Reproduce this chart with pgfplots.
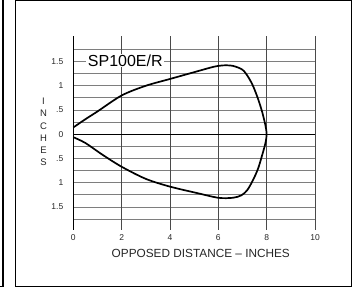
\documentclass[border=0pt]{standalone}
\usepackage{fontspec}
\setmainfont{Liberation Sans}
\usepackage{pgfplots}
\pgfplotsset{compat=1.18}
\definecolor{gridgray}{HTML}{7E7E7E}
\definecolor{vgray}{HTML}{4A4A4A}
\definecolor{labgray}{HTML}{262626}
\begin{document}
\begin{tikzpicture}[x=1pt,y=1pt]
\useasboundingbox (0,0) rectangle (353,288);
\draw[line width=1.1pt] (15.5,1.5) rectangle (351.5,287.6);
\draw[line width=1.1pt] (0,1.5) -- (3,1.5) -- (3,288);
\begin{axis}[
  at={(73.3pt,58.2pt)}, anchor=south west, scale only axis,
  width=241.7pt, height=193.5pt,
  xmin=0, xmax=10, ymin=-1.97, ymax=2.02,
  axis line style={draw=none},
  tick style={draw=none},
  major tick length=0pt, minor tick length=0pt,
  xtick={0,2,4,6,8,10},
  ytick={-1.5,-1,-0.5,0,0.5,1,1.5},
  yticklabels={1.5,1,.5,0,.5,1,1.5},
  minor ytick={-1.75,-1.25,-0.75,-0.25,0.25,0.75,1.25,1.75},
  ymajorgrids, yminorgrids,
  major grid style={gridgray, line width=0.85pt},
  minor grid style={gridgray, line width=0.85pt},
  extra x ticks={2,4,6,8,10},
  extra x tick labels={},
  extra x tick style={xmajorgrids=true, ymajorgrids=false, yminorgrids=false, major grid style={vgray, line width=0.85pt}},
  /pgf/number format/assume math mode=true,
  ticklabel style={font=\fontsize{8.5}{9}\selectfont, text=labgray},
  yticklabel style={xshift=-6.5pt},
  xticklabel style={yshift=-1.2pt},
  clip=false,
]
\draw[black, line width=0.9pt] (axis cs:0,0) -- (axis cs:10,0);
\draw[black, line width=1.2pt] (axis cs:0,-1.97) -- (axis cs:0,2.02);
\addplot[black, line width=1.7pt, smooth, tension=0.5] coordinates {
  (0,0.14) (0.5,0.31) (1,0.47) (2,0.8) (3,1.0) (4,1.14) (5,1.28)
  (5.8,1.39) (6.2,1.42) (6.6,1.41) (7.0,1.33) (7.25,1.17) (7.45,0.98)
  (7.65,0.72) (7.82,0.45) (7.95,0.18) (8,0)
  (7.95,-0.18) (7.82,-0.42) (7.65,-0.7) (7.45,-0.93) (7.2,-1.15)
  (6.95,-1.26) (6.6,-1.31) (6.0,-1.31) (5.1,-1.21) (4,-1.08) (3,-0.92)
  (2,-0.67) (1.2,-0.42) (0.5,-0.18) (0,-0.06)
};
\end{axis}
\node[fill=white, inner xsep=1.5pt, inner ysep=0.5pt, font=\fontsize{16}{16}\selectfont, text height=11.3pt, text depth=0pt] at (125.3,227.4) {SP100E/R};
\node[font=\fontsize{11.8}{12}\selectfont, text=labgray] at (200.8,35) {OPPOSED DISTANCE -- INCHES};
\node[font=\fontsize{9.5}{12.3}\selectfont, text=labgray, align=center] at (43.5,156) {I\\N\\C\\H\\E\\S};
\end{tikzpicture}
\end{document}
